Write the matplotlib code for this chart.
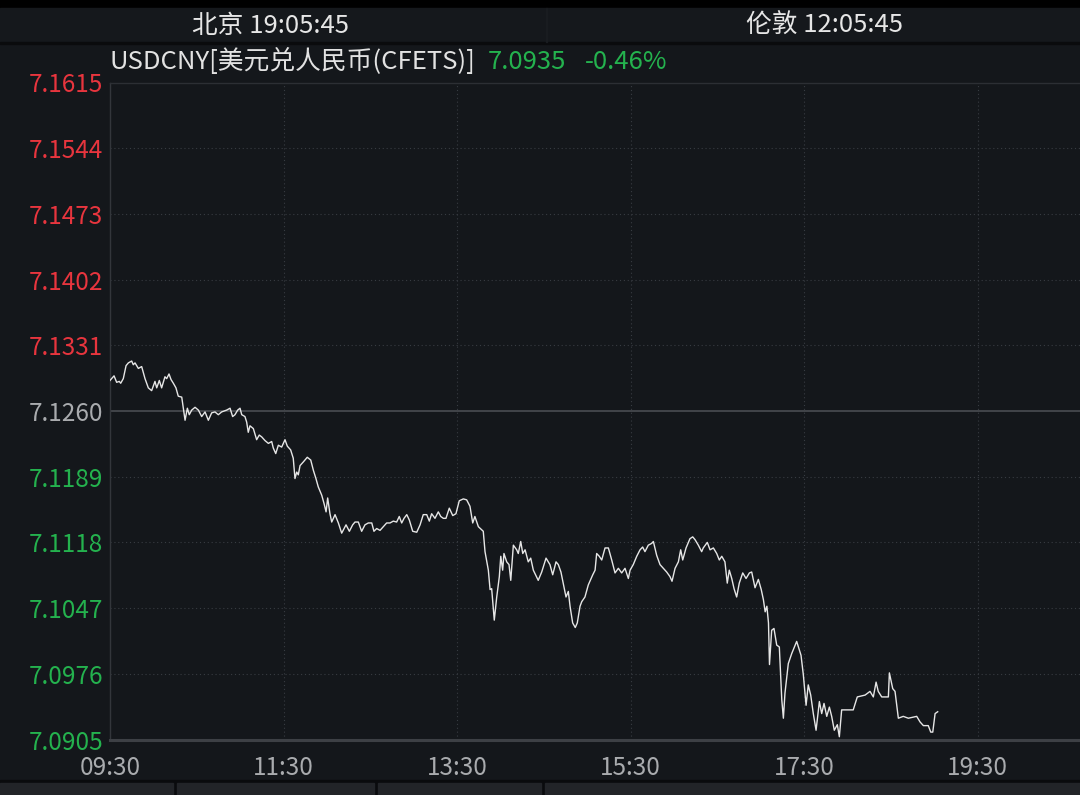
import matplotlib
matplotlib.use("Agg")
import matplotlib.pyplot as plt
from matplotlib.patches import Rectangle

FONT = ['Noto Sans CJK SC', 'DejaVu Sans']
plt.rcParams['font.family'] = FONT

# ---------------- data ----------------
# minutes after 09:30 (Beijing time)
minutes = [0, 2.8, 4.6, 6.4, 7.4, 9.2, 11.1, 12.7, 15.0, 16.1, 17.3, 19.6, 21.9, 24.2, 26.5, 28.8,
           31.1, 32.3, 34.1, 35.7, 38.0, 39.2, 40.8, 42.2, 43.8, 45.6, 47.2, 49.6, 50.7, 51.9, 53.5,
           54.8, 56.5, 58.8, 61.1, 63.4, 65.7, 68.0, 70.3, 72.6, 74.9, 77.2, 80.7, 83.0, 84.8, 86.4,
           88.3, 89.9, 91.1, 93.3, 94.5, 95.6, 96.8, 99.1, 101.4, 103.2, 104.9, 107.2, 109.5, 111.8,
           112.9, 114.6, 116.4, 118.7, 121.0, 122.6, 124.9, 126.7, 127.9, 129.1, 130.2, 131.4, 133.7,
           136.4, 138.8, 140.6, 142.4, 144.0, 146.4, 148.0, 149.4, 150.5, 152.1, 153.3, 155.6, 157.9,
           160.2, 163.2, 165.5, 167.8, 169.4, 171.7, 174.0, 176.3, 178.6, 181.0, 182.5, 184.4, 186.7,
           189.0, 191.3, 193.6, 195.9, 198.2, 200.0, 201.7, 203.3, 205.2, 207.0, 209.3, 212.1, 214.4,
           216.6, 219.0, 220.8, 222.4, 224.7, 227.0, 228.7, 230.5, 232.3, 234.6, 237.0, 239.2, 241.5,
           244.3, 246.6, 248.9, 250.8, 252.3, 254.7, 258.1, 259.3, 261.6, 262.8, 263.9, 265.7, 267.4,
           269.2, 270.2, 271.5, 272.4, 274.3, 275.9, 277.1, 278.9, 281.2, 282.3, 284.0, 285.4, 287.0,
           289.2, 290.9, 292.7, 296.1, 298.5, 301.5, 304.2, 306.1, 308.4, 310.0, 311.8, 313.9, 315.3,
           316.9, 318.1, 319.9, 321.7, 323.1, 325.0, 326.2, 328.4, 330.7, 333.8, 335.4, 336.5, 338.3,
           340.0, 342.3, 344.6, 346.9, 349.2, 351.5, 353.8, 356.1, 358.4, 359.6, 361.8, 364.2, 366.5,
           368.3, 369.9, 372.2, 374.6, 375.7, 378.0, 380.3, 382.6, 384.9, 387.2, 388.6, 390.7, 393.0,
           394.6, 396.0, 398.3, 401.0, 402.9, 404.5, 406.8, 409.1, 410.2, 413.0, 414.9, 417.2, 419.5,
           421.3, 423.0, 425.2, 426.8, 428.2, 429.9, 431.5, 433.3, 435.1, 437.5, 439.8, 442.1, 443.7,
           446.0, 448.3, 450.3, 451.8, 453.0, 454.2, 455.3, 456.0, 457.5, 459.1, 461.0, 462.8, 464.5,
           465.6, 466.7, 469.0, 471.4, 474.8, 477.8, 479.4, 481.3, 482.8, 484.5, 486.3, 488.2, 490.5,
           492.1, 493.7, 495.6, 497.4, 499.0, 500.8, 502.9, 504.3, 505.9, 513.9, 516.7, 522.1, 525.5,
           527.8, 529.7, 531.2, 533.6, 538.2, 538.9, 541.2, 542.8, 545.1, 548.5, 552.0, 557.8, 560.1,
           562.4, 565.8, 567.5, 568.9, 570.5, 572.3]
prices = [7.1293, 7.1298, 7.1291, 7.1292, 7.1290, 7.1295, 7.1309, 7.1312, 7.1314, 7.1310, 7.1312,
          7.1306, 7.1308, 7.1295, 7.1285, 7.1282, 7.1292, 7.1285, 7.1293, 7.1285, 7.1297, 7.1295,
          7.1300, 7.1294, 7.1290, 7.1285, 7.1276, 7.1275, 7.1263, 7.1250, 7.1263, 7.1256, 7.1261,
          7.1264, 7.1261, 7.1254, 7.1259, 7.1250, 7.1258, 7.1259, 7.1256, 7.1259, 7.1261, 7.1263,
          7.1254, 7.1256, 7.1261, 7.1263, 7.1256, 7.1254, 7.1248, 7.1237, 7.1244, 7.1241, 7.1229,
          7.1234, 7.1232, 7.1228, 7.1225, 7.1227, 7.1220, 7.1214, 7.1223, 7.1221, 7.1229, 7.1222,
          7.1218, 7.1209, 7.1187, 7.1194, 7.1191, 7.1201, 7.1205, 7.1210, 7.1207, 7.1196, 7.1187,
          7.1178, 7.1169, 7.1160, 7.1151, 7.1166, 7.1149, 7.1140, 7.1148, 7.1139, 7.1128, 7.1137,
          7.1130, 7.1137, 7.1140, 7.1140, 7.1130, 7.1137, 7.1139, 7.1139, 7.1130, 7.1133, 7.1131,
          7.1135, 7.1139, 7.1139, 7.1141, 7.1140, 7.1146, 7.1139, 7.1144, 7.1148, 7.1142, 7.1130,
          7.1129, 7.1137, 7.1148, 7.1148, 7.1141, 7.1149, 7.1144, 7.1151, 7.1146, 7.1144, 7.1144,
          7.1155, 7.1147, 7.1149, 7.1163, 7.1165, 7.1164, 7.1157, 7.1139, 7.1146, 7.1135, 7.1130,
          7.1108, 7.1088, 7.1067, 7.1068, 7.1034, 7.1059, 7.1081, 7.1103, 7.1088, 7.1106, 7.1097,
          7.1094, 7.1077, 7.1115, 7.1110, 7.1106, 7.1119, 7.1106, 7.1110, 7.1097, 7.1101, 7.1088,
          7.1077, 7.1086, 7.1101, 7.1094, 7.1083, 7.1097, 7.1094, 7.1086, 7.1070, 7.1059, 7.1065,
          7.1049, 7.1031, 7.1026, 7.1031, 7.1049, 7.1054, 7.1059, 7.1072, 7.1083, 7.1088, 7.1106,
          7.1103, 7.1099, 7.1112, 7.1112, 7.1099, 7.1085, 7.1090, 7.1085, 7.1090, 7.1079, 7.1088,
          7.1094, 7.1103, 7.1110, 7.1113, 7.1108, 7.1115, 7.1117, 7.1119, 7.1104, 7.1094, 7.1090,
          7.1086, 7.1081, 7.1076, 7.1090, 7.1097, 7.1110, 7.1099, 7.1112, 7.1122, 7.1124, 7.1121,
          7.1115, 7.1108, 7.1112, 7.1118, 7.1110, 7.1112, 7.1106, 7.1099, 7.1103, 7.1097, 7.1074,
          7.1088, 7.1079, 7.1068, 7.1059, 7.1074, 7.1085, 7.1079, 7.1085, 7.1086, 7.1069, 7.1078,
          7.1067, 7.1056, 7.1043, 7.1049, 7.1031, 7.0986, 7.1023, 7.1025, 7.1007, 7.1005, 7.0948,
          7.0928, 7.0955, 7.0987, 7.0998, 7.1011, 7.0996, 7.0975, 7.0942, 7.0964, 7.0953, 7.0933,
          7.0915, 7.0946, 7.0933, 7.0944, 7.0930, 7.0940, 7.0930, 7.0915, 7.0921, 7.0908, 7.0937,
          7.0937, 7.0951, 7.0953, 7.0957, 7.0951, 7.0967, 7.0957, 7.0951, 7.0951, 7.0977, 7.0960,
          7.0957, 7.0928, 7.0930, 7.0928, 7.0930, 7.0924, 7.0920, 7.0920, 7.0913, 7.0913, 7.0933,
          7.0935]

prev_close = 7.1260
y_levels = [7.0905, 7.0976, 7.1047, 7.1118, 7.1189, 7.1260, 7.1331, 7.1402, 7.1473, 7.1544, 7.1615]
x_tick_minutes = [0, 120, 240, 360, 480, 600]
x_tick_labels = ['09:30', '11:30', '13:30', '15:30', '17:30', '19:30']
x_max_minutes = 670.7

header_left = '北京 19:05:45'
header_right = '伦敦 12:05:45'
title_name = 'USDCNY[美元兑人民币(CFETS)]'
last_price = '7.0935'
change_pct = '-0.46%'

# ---------------- style ----------------
BG = '#14171b'
GRID = '#383c42'
RED = '#e8353e'
GREEN = '#24b24e'
GRAY = '#a9abae'
W, H = 1080, 795
FS_HEAD = 18.5
FS_TICK = 17.5

fig = plt.figure(figsize=(W / 100, H / 100), dpi=100, facecolor=BG)

def fx(px):
    return px / W

def fy(py):
    return 1 - py / H

# top black strip and header band
fig.patches.append(Rectangle((0, fy(8)), 1, 8 / H, transform=fig.transFigure, color='#000000', zorder=0))
fig.patches.append(Rectangle((0, fy(42)), 1, 34 / H, transform=fig.transFigure, color='#15181c', zorder=0))
fig.patches.append(Rectangle((0, fy(44)), 1, 2 / H, transform=fig.transFigure, color='#0a0b0d', zorder=0))
fig.patches.append(Rectangle((fx(546), fy(42)), 1 / W, 34 / H, transform=fig.transFigure, color='#191c20', zorder=1))

# bottom toolbar strip
fig.patches.append(Rectangle((0, 0), 1, 15 / H, transform=fig.transFigure, color='#0a0b0d', zorder=0))
for x0, x1 in [(0, 173), (177, 374), (378, 541), (545, 1080)]:
    fig.patches.append(Rectangle((fx(x0), 0), (x1 - x0) / W, 12 / H, transform=fig.transFigure,
                                 color='#222428', zorder=1))

ax_left, ax_right = 110, 1080
ax_top, ax_bottom = 82.5, 739.5
ax = fig.add_axes([fx(ax_left), fy(ax_bottom), (ax_right - ax_left) / W, (ax_bottom - ax_top) / H])
ax.set_facecolor(BG)

ax.plot(minutes, prices, color='#e6e6e6', lw=1.0, zorder=3)

ax.set_xlim(0, x_max_minutes)
ax.set_ylim(y_levels[0], y_levels[-1])

# grid
for lv in y_levels[1:-1]:
    if abs(lv - prev_close) < 1e-6:
        ax.axhline(lv, color='#4a4d52', lw=1.2, zorder=1)
    else:
        ax.axhline(lv, color=GRID, lw=0.8, ls=(0, (1, 2.5)), zorder=1)
for m in x_tick_minutes[1:]:
    ax.axvline(m, color=GRID, lw=0.8, ls=(0, (1, 2.5)), zorder=1)

ax.spines['right'].set_visible(False)
ax.spines['left'].set_color('#33363b')
ax.spines['left'].set_linewidth(1.0)
ax.spines['top'].set_color('#2c2f34')
ax.spines['top'].set_linewidth(1.0)
ax.spines['bottom'].set_color('#3d4045')
ax.spines['bottom'].set_linewidth(2.2)

ax.set_yticks(y_levels)
ax.set_yticklabels([f'{v:.4f}' for v in y_levels])
ax.tick_params(axis='y', length=0, pad=5, labelsize=FS_TICK)
for lbl, v in zip(ax.get_yticklabels(), y_levels):
    if v > prev_close + 1e-6:
        lbl.set_color(RED)
    elif v < prev_close - 1e-6:
        lbl.set_color(GREEN)
    else:
        lbl.set_color(GRAY)

ax.set_xticks(x_tick_minutes)
ax.set_xticklabels(x_tick_labels)
ax.tick_params(axis='x', length=0, pad=11, labelsize=FS_TICK, labelcolor=GRAY)

# header texts
fig.text(fx(270), fy(26), header_left, color='#e6e6e6', fontsize=FS_HEAD, ha='center', va='center')
fig.text(fx(825), fy(26), header_right, color='#e6e6e6', fontsize=FS_HEAD, ha='center', va='center')

fig.text(fx(110), fy(62), title_name, color='#e2e2e2', fontsize=FS_HEAD, ha='left', va='center')
fig.text(fx(488), fy(62), last_price, color=GREEN, fontsize=FS_HEAD, ha='left', va='center')
fig.text(fx(585), fy(62), change_pct, color=GREEN, fontsize=FS_HEAD, ha='left', va='center')

fig.savefig('out.png', dpi=100, facecolor=BG)
